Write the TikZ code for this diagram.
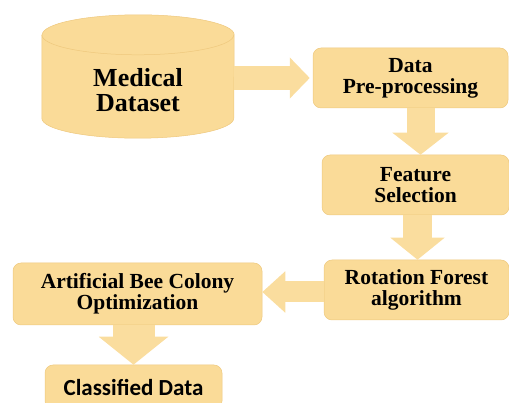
\documentclass[tikz,border=0pt]{standalone}
\usepackage{fontspec}
\setmainfont{Liberation Serif}
\newfontfamily\clsfont{Carlito}
\usetikzlibrary{arrows.meta,positioning}
\pgfdeclarelayer{background}
\pgfsetlayers{background,main}
\definecolor{boxfill}{RGB}{250,219,152}
\definecolor{boxline}{RGB}{238,200,125}
\definecolor{arrowfill}{RGB}{250,221,158}

\begin{document}
\begin{tikzpicture}[x=1pt,y=-1pt,on grid,
  box/.style={rectangle,rounded corners=8pt,fill=boxfill,draw=boxline,line width=0.5pt,
    align=center,inner sep=0pt,font=\bfseries\fontsize{21.5}{21}\selectfont},
  cylline/.style={draw=boxline,line width=0.5pt},
  fat/.style n args={3}{draw=arrowfill,line width=#1,
    -{Triangle[width=#2 0 0,length=#3 0 0]}}]
  \useasboundingbox (0,0) rectangle (509,403);
  \clip (0,0) rectangle (509,403);

  % database cylinder
  \node[minimum width=192pt,minimum height=123pt,inner sep=0pt] (ds) at (138,76.5)
    [label={[font=\bfseries\fontsize{26}{25}\selectfont,align=center,yshift=-14pt]center:{Medical\\Dataset}}] {};
  \begin{pgfonlayer}{background}
  \path[fill=boxfill,cylline] ([yshift=-20pt]ds.north west) -- ([yshift=20pt]ds.south west)
    arc[start angle=180,end angle=360,x radius=96pt,y radius=20pt]
    -- ([yshift=-20pt]ds.north east)
    arc[start angle=0,end angle=180,x radius=96pt,y radius=20pt] -- cycle;
  \draw[cylline] ([yshift=-20pt]ds.north west)
    arc[start angle=180,end angle=360,x radius=96pt,y radius=20pt];
  \end{pgfonlayer}

  \node[box,minimum width=195pt,minimum height=60pt] (pre) at (410.5,78) {Data\\Pre-processing};
  \node[box,minimum width=187pt,minimum height=60pt] (feat) [below=107pt of pre,xshift=5pt] {Feature\\Selection};
  \node[box,minimum width=185pt,minimum height=60pt] (rot) [below=105pt of feat,xshift=1pt] {Rotation Forest\\algorithm};
  \node[box,minimum width=249pt,minimum height=62pt] (abc) [left=279pt of rot,yshift=-4pt] {Artificial Bee Colony\\Optimization};
  \node[box,minimum width=177pt,minimum height=44pt,font=\clsfont\bfseries\fontsize{23}{24}\selectfont] (cls)
    [below=93pt of abc,xshift=-4pt] {Classified Data};

  % flow arrows
  \draw[fat={24pt}{40pt}{20pt}] (ds.east |- pre.west) -- ([xshift=-3pt]pre.west);
  \draw[fat={28pt}{55pt}{22pt}] ([xshift=10pt]pre.south) -- ([xshift=10pt]pre.south |- feat.north);
  \draw[fat={29pt}{53pt}{22pt}] ([xshift=2pt]feat.south) -- ([xshift=2pt]feat.south |- rot.north);
  \draw[fat={21pt}{40pt}{23pt}] ([yshift=-2pt]rot.west) -- ([yshift=-2pt]rot.west -| abc.east);
  \draw[fat={42pt}{68pt}{28pt}] (abc.south -| cls.north) -- (cls.north);
\end{tikzpicture}
\end{document}
